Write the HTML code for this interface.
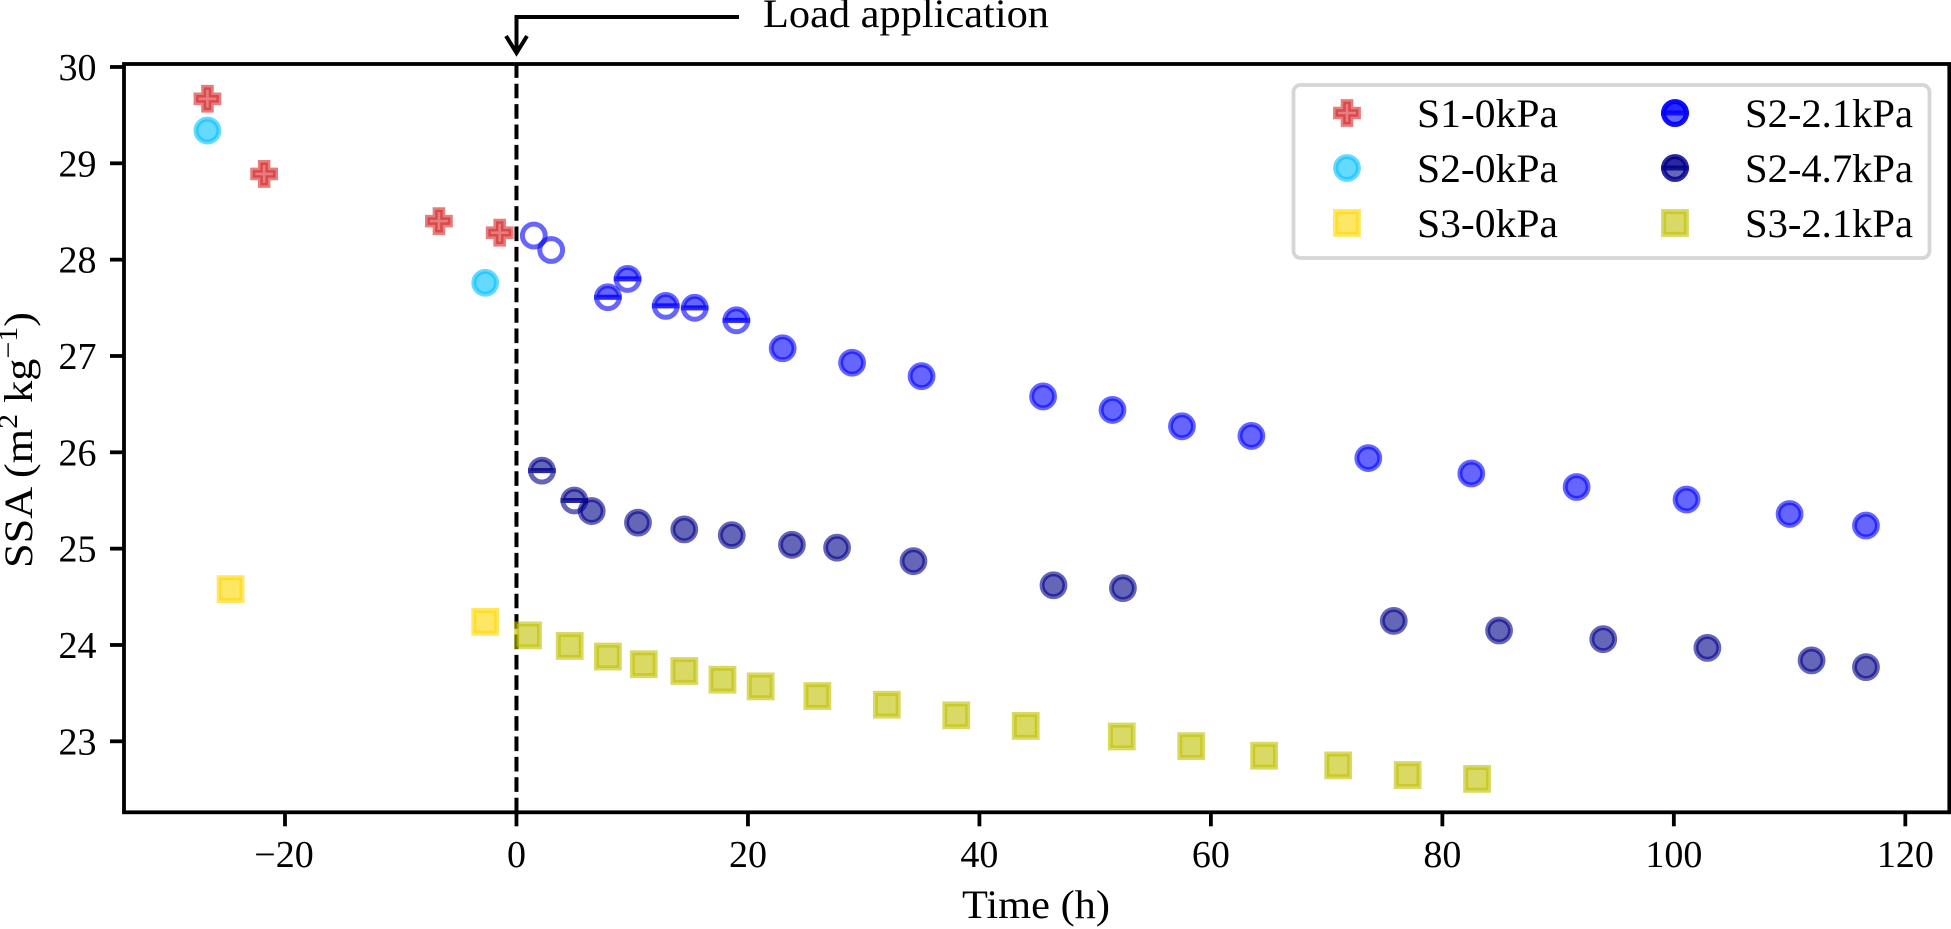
<!DOCTYPE html>
<html>
<head>
<meta charset="utf-8">
<title>SSA over time</title>
<style>
html,body{margin:0;padding:0;background:#fff;width:1951px;height:929px;overflow:hidden}
svg{display:block}
text{font-family:"Liberation Serif",serif;fill:#000}
</style>
</head>
<body>
<svg id="chart" xmlns="http://www.w3.org/2000/svg" width="1951" height="929" viewBox="0 0 1951 929"></svg>
<script>
const xTickValues = [-20, 0, 20, 40, 60, 80, 100, 120];
const xTickLabels = ['\u221220', '0', '20', '40', '60', '80', '100', '120'];
const yTickValues = [23, 24, 25, 26, 27, 28, 29, 30];
const yTickLabels = ['23', '24', '25', '26', '27', '28', '29', '30'];

const s1Time = [-26.7, -21.8, -6.7, -1.45];
const s1Ssa = [29.67, 28.89, 28.40, 28.28];
const s2ZeroTime = [-26.7, -2.7];
const s2ZeroSsa = [29.34, 27.76];
const s3ZeroTime = [-24.7, -2.7];
const s3ZeroSsa = [24.58, 24.24];

const s21HollowTime = [1.5, 3.0];
const s21HollowSsa = [28.25, 28.10];
const s21HalfTime = [7.9, 9.6, 12.9, 15.4, 19.0];
const s21HalfSsa = [27.61, 27.80, 27.52, 27.50, 27.37];
const s21FullTime = [23.0, 29.0, 35.0, 45.5, 51.5, 57.5, 63.5, 73.6, 82.5, 91.6, 101.1, 110.0, 116.6];
const s21FullSsa = [27.08, 26.93, 26.79, 26.58, 26.44, 26.27, 26.17, 25.94, 25.78, 25.64, 25.51, 25.36, 25.24];

const s47HalfTime = [2.2, 5.0];
const s47HalfSsa = [25.81, 25.50];
const s47FullTime = [6.5, 10.5, 14.5, 18.6, 23.8, 27.7, 34.3, 46.4, 52.4, 75.8, 84.9, 93.9, 102.9, 111.9, 116.6];
const s47FullSsa = [25.39, 25.27, 25.20, 25.14, 25.04, 25.01, 24.87, 24.62, 24.59, 24.25, 24.15, 24.06, 23.97, 23.84, 23.77];

const s3LoadTime = [1.0, 4.6, 7.9, 11.0, 14.5, 17.8, 21.1, 26.0, 32.0, 38.0, 44.0, 52.3, 58.3, 64.6, 71.0, 77.0, 83.0];
const s3LoadSsa = [24.10, 23.99, 23.88, 23.80, 23.73, 23.64, 23.57, 23.47, 23.38, 23.27, 23.16, 23.05, 22.95, 22.85, 22.75, 22.65, 22.61];

const loadTime = 0;

const svg = document.getElementById('chart');
const NS = 'http://www.w3.org/2000/svg';
const plotLeft = 124, plotRight = 1949.3, plotTop = 64, plotBottom = 812.3;
const xMin = -33.91, xMax = 123.8, yMin = 22.263, yMax = 30.031;
function xScale(v) { return plotLeft + (v - xMin) / (xMax - xMin) * (plotRight - plotLeft); }
function yScale(v) { return plotBottom - (v - yMin) / (yMax - yMin) * (plotBottom - plotTop); }

function make(tag, attrs, parent) {
  const el = document.createElementNS(NS, tag);
  for (const k in attrs) el.setAttribute(k, attrs[k]);
  (parent || svg).appendChild(el);
  return el;
}
function label(str, x, y, size, anchor, len, name, parent) {
  const t = make('text', {x: x, y: y, 'font-size': size, 'text-anchor': anchor}, parent);
  t.textContent = str;
  if (len) { t.setAttribute('textLength', len); t.setAttribute('lengthAdjust', 'spacingAndGlyphs'); }
  
  
  return t;
}

const R = 11.4, SW = 5;
function drawMarker(shape, color, cx, cy, parent, name) {
  const g = make('g', {transform: 'translate(' + cx + ' ' + cy + ')'}, parent);
  
  
  const paint = {fill: color, 'fill-opacity': 0.6, stroke: color, 'stroke-opacity': 0.6, 'stroke-width': SW};
  const edge = {fill: 'none', stroke: color, 'stroke-opacity': 0.6, 'stroke-width': SW};
  if (shape === 'circle') {
    make('circle', Object.assign({r: R}, paint), g);
  } else if (shape === 'hollow') {
    make('circle', Object.assign({r: R}, edge), g);
  } else if (shape === 'half') {
    make('path', Object.assign({d: 'M' + (-R) + ' 0A' + R + ' ' + R + ' 0 0 1 ' + R + ' 0Z'}, paint), g);
    make('path', Object.assign({d: 'M' + (-R) + ' 0A' + R + ' ' + R + ' 0 0 0 ' + R + ' 0Z'}, edge), g);
  } else if (shape === 'square') {
    make('rect', Object.assign({x: -R, y: -R, width: 2 * R, height: 2 * R}, paint), g);
  } else if (shape === 'plus') {
    const a = R, b = R / 3;
    const pts = [[-b,-a],[b,-a],[b,-b],[a,-b],[a,b],[b,b],[b,a],[-b,a],[-b,b],[-a,b],[-a,-b],[-b,-b]];
    make('polygon', Object.assign({points: pts.map(p => p.join(',')).join(' ')}, paint), g);
  }
  return g;
}
function drawSeries(shape, color, times, values, name) {
  const g = make('g', {});
  
  
  times.forEach(function (t, i) {
    drawMarker(shape, color, xScale(t), yScale(values[i]), g, name + '-point');
  });
}

const RED = '#d62728', SKY = '#00bfff', GOLD = '#ffd700', BLUE = '#0000ff', NAVY = '#00008b', OLIVE = '#bfbf00';

/* load line */
const loadLine = make('line', {x1: xScale(loadTime), x2: xScale(loadTime), y1: plotBottom, y2: plotTop, stroke: '#000', 'stroke-width': 4, 'stroke-dasharray': '14.6 5.8'});



/* series */
drawSeries('plus', RED, s1Time, s1Ssa, 's1-0kpa-series');
drawSeries('circle', SKY, s2ZeroTime, s2ZeroSsa, 's2-0kpa-series');
drawSeries('square', GOLD, s3ZeroTime, s3ZeroSsa, 's3-0kpa-series');
drawSeries('hollow', BLUE, s21HollowTime, s21HollowSsa, 's2-2-1kpa-hollow-series');
drawSeries('half', BLUE, s21HalfTime, s21HalfSsa, 's2-2-1kpa-half-series');
drawSeries('circle', BLUE, s21FullTime, s21FullSsa, 's2-2-1kpa-full-series');
drawSeries('half', NAVY, s47HalfTime, s47HalfSsa, 's2-4-7kpa-half-series');
drawSeries('circle', NAVY, s47FullTime, s47FullSsa, 's2-4-7kpa-full-series');
drawSeries('square', OLIVE, s3LoadTime, s3LoadSsa, 's3-2-1kpa-series');

/* axes frame */
const frame = make('rect', {x: plotLeft, y: plotTop, width: plotRight - plotLeft, height: plotBottom - plotTop, fill: 'none', stroke: '#000', 'stroke-width': 3.8});



/* ticks */
const xAxis = make('g', {});


xTickValues.forEach(function (v, i) {
  const x = xScale(v);
  const tick = make('line', {x1: x, x2: x, y1: plotBottom, y2: plotBottom + 14, stroke: '#000', 'stroke-width': 3.8}, xAxis);
  
  
  const dx = xTickLabels[i].charAt(0) === '\u2212' ? -1 : 0;
  label(xTickLabels[i], x + dx, 867, 38, 'middle', 0, 'x-tick-label', xAxis);
});
const yAxis = make('g', {});


yTickValues.forEach(function (v, i) {
  const y = yScale(v);
  const tick = make('line', {x1: plotLeft, x2: plotLeft - 14, y1: y, y2: y, stroke: '#000', 'stroke-width': 3.8}, yAxis);
  
  
  label(yTickLabels[i], 96.5, y + 13, 38, 'end', 0, 'y-tick-label', yAxis);
});

/* axis titles */
label('Time (h)', 1036, 918, 40, 'middle', 148, 'x-axis-title');
const yTitle = make('text', {transform: 'translate(32 568) rotate(-90)', 'font-size': 40, 'text-anchor': 'start'});


yTitle.setAttribute('textLength', '256');
yTitle.setAttribute('lengthAdjust', 'spacingAndGlyphs');
[['SSA (m', 40, 0], ['2', 27, -15], ['\u00A0kg', 40, 15], ['\u22121', 27, -15], [')', 40, 15]].forEach(function (p) {
  const s = make('tspan', {'font-size': p[1], dy: p[2]}, yTitle);
  s.textContent = p[0];
});

/* annotation */
const arrow = make('path', {d: 'M739 17H516.5V52M506 36L516.5 53L527 36', fill: 'none', stroke: '#000', 'stroke-width': 4, 'stroke-linejoin': 'miter'});


label('Load application', 763, 27, 40, 'start', 286, 'load-application-annotation');

/* legend */
const legend = make('g', {});


make('rect', {x: 1293.5, y: 85, width: 636, height: 173, rx: 7, fill: '#fff', 'fill-opacity': 0.8, stroke: '#d6d6d6', 'stroke-width': 3.8}, legend);
const legendRows = [113, 168, 223];
[
  [['plus'], RED, 'S1-0kPa', 0, 0],
  [['circle'], SKY, 'S2-0kPa', 0, 1],
  [['square'], GOLD, 'S3-0kPa', 0, 2],
  [['hollow', 'half', 'circle'], BLUE, 'S2-2.1kPa', 1, 0],
  [['half', 'circle'], NAVY, 'S2-4.7kPa', 1, 1],
  [['square'], OLIVE, 'S3-2.1kPa', 1, 2]
].forEach(function (e) {
  const col = e[3], y = legendRows[e[4]];
  const entry = make('g', {}, legend);
  
  
  e[0].forEach(function (shape) {
    drawMarker(shape, e[1], col ? 1675 : 1347, y, entry, 'legend-marker');
  });
  label(e[2], col ? 1745 : 1417, y + 14, 40, 'start', col ? 168 : 141, 'legend-label', entry);
});
</script>
</body>
</html>
